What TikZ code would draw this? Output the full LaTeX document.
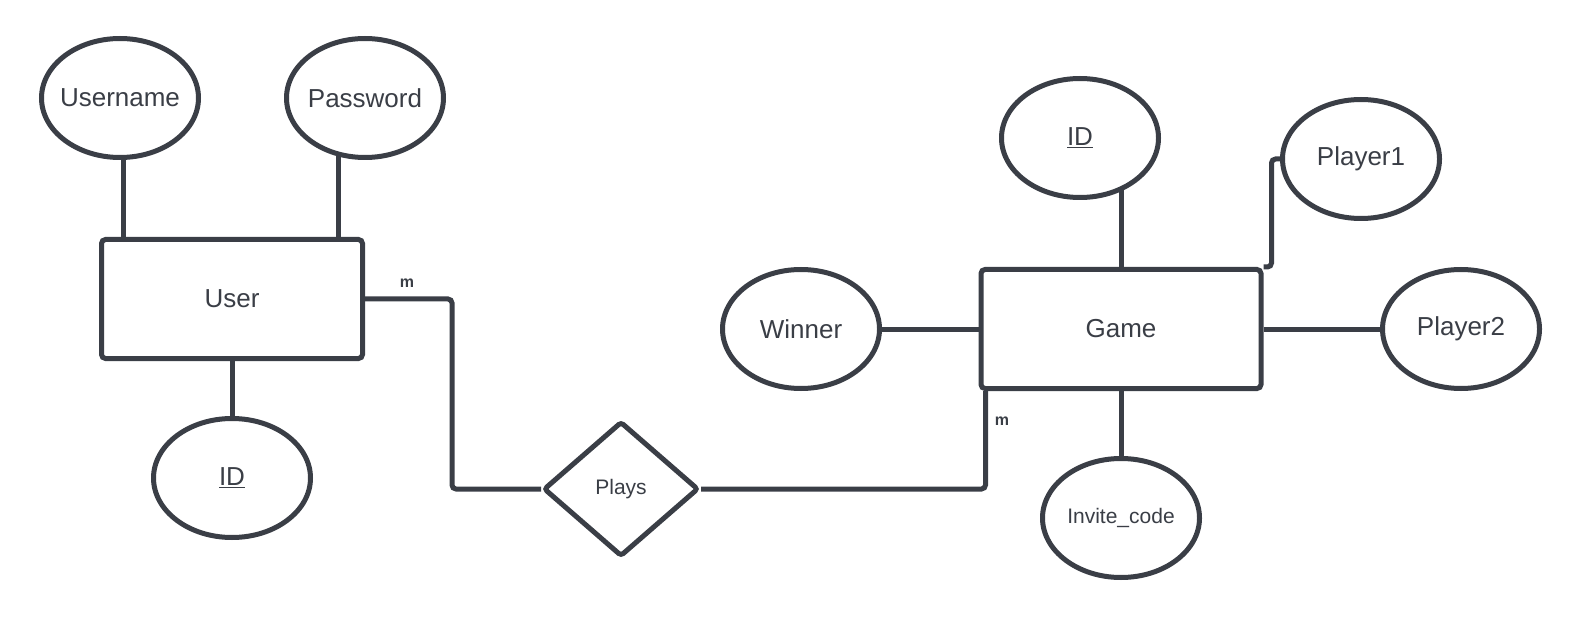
\documentclass[tikz,border=0pt]{standalone}
\usepackage{fontspec}
\setmainfont{Liberation Sans}
\usetikzlibrary{shapes.geometric,backgrounds}
\definecolor{erline}{HTML}{3A3E46}

\begin{document}
\begin{tikzpicture}[
        x=1pt, y=-1pt,
        every node/.style={draw=erline, line width=5pt, fill=white, text=erline, font=\fontsize{26}{31}\selectfont},
        attr/.style={ellipse, minimum width=157pt, minimum height=119pt, inner xsep=-14pt, inner ysep=0pt},
        entity/.style={rectangle, rounded corners=4pt, minimum height=119pt},
        rel/.style={diamond, rounded corners=3pt, minimum width=155pt, minimum height=135pt, inner sep=0pt, font=\fontsize{21}{25}\selectfont},
        card/.style={draw=none, fill=none, font=\bfseries\fontsize{16}{19}\selectfont},
        link/.style={draw=erline, line width=5pt, rounded corners=4pt},
    ]
    \useasboundingbox (0,0) rectangle (1582,620);

    % user side
    \node[attr](uname) at (120,98) {Username};
    \node[attr](pass) at (365,98) {Password};
    \node[entity, minimum width=261pt](user) at (232,299) {User};
    \node[attr](uid) at (232,478) {\underline{ID}};

    \node[rel](plays) at (621,489) {Plays};

    % game side
    \node[entity, minimum width=280pt](game) at (1121,329) {Game};
    \node[attr](gid) at (1080,138) {\underline{ID}};
    \node[attr](p1) at (1361,159) {Player1};
    \node[attr](p2) at (1461,329) {Player2};
    \node[attr](winner) at (801,329) {Winner};
    \node[attr, font=\fontsize{21}{25}\selectfont](inv) at (1121,518) {Invite\_code};

    \node[card](m1) at (407,283) {m};
    \node[card](m2) at (1002,421) {m};

    \coordinate (jog1) at (452,400);
    \coordinate (jog2) at ([xshift=7pt]game.south west);
    \coordinate (jog3) at ([xshift=8pt]game.north east);

    \begin{scope}[on background layer]
        \draw[link] ([xshift=3pt]uname.center) -- ([xshift=3pt]uname.center |- user.north);
        \draw[link] ([xshift=-27pt]pass.center) -- ([xshift=-27pt]pass.center |- user.north);
        \draw[link] (user.south) -- (uid.center);
        \draw[link] (user.east) -| (jog1) |- (plays.west);
        \draw[link] (plays.east) -| (jog2);
        \draw[link] (game.north) -- (game.north |- gid.center);
        \draw[link] (game.north east) -- (jog3) |- (p1.west);
        \draw[link] (game.east) -- (p2.west);
        \draw[link] (winner.east) -- (game.west);
        \draw[link] (game.south) -- (inv.center);
    \end{scope}
\end{tikzpicture}
\end{document}
